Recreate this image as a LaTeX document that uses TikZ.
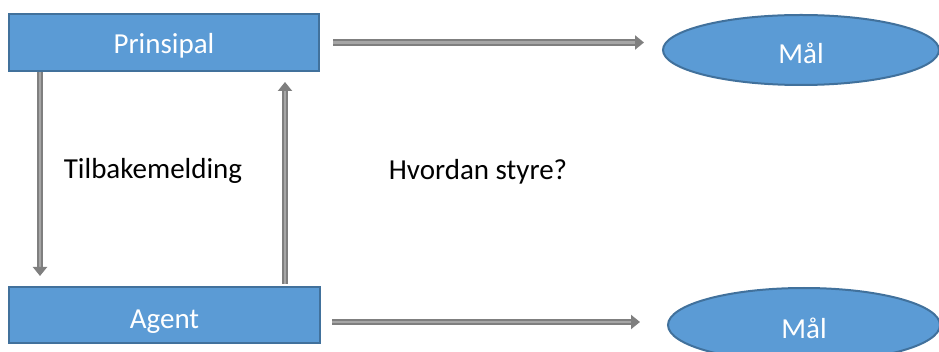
\documentclass[tikz,border=0pt]{standalone}
\usepackage{fontspec}
\setmainfont{Carlito}
\usetikzlibrary{arrows.meta,shapes.geometric,calc}
\definecolor{boxfill}{HTML}{5B9BD5}
\definecolor{boxline}{HTML}{41719C}
\definecolor{arrowdark}{HTML}{7F7F7F}
\definecolor{arrowlight}{HTML}{A6A6A6}
\begin{document}
\begin{tikzpicture}[x=1pt,y=-1pt,
  bigtext/.style={font=\fontsize{29}{34}\selectfont},
  bluebox/.style={rectangle, draw=boxline, line width=2pt, fill=boxfill, text=white, bigtext, inner sep=0pt},
  blueoval/.style={ellipse, draw=boxline, line width=2pt, fill=boxfill, text=white, bigtext, inner sep=0pt,
    text height=28pt, text depth=1pt},
  label/.style={bigtext, text=black, inner sep=0pt},
  garrow/.style={draw=arrowdark, line width=2pt, double=arrowlight, double distance=2.5pt,
    -{Triangle[length=9pt,width=14pt,fill=arrowdark]}}
]
\useasboundingbox (0,0) rectangle (939,352);
\node[bluebox, minimum width=310pt, minimum height=57pt, text height=22pt, text depth=0.5pt] (P) at (164,42.5) {Prinsipal};
\node[bluebox, minimum width=311pt, minimum height=56pt, text height=27pt, text depth=1pt] (A) at (164.5,315) {Agent};
\node[blueoval, minimum width=276pt, minimum height=70pt] (M1) at (801,50) {Mål};
\node[blueoval, minimum width=272pt, minimum height=74pt] (M2) at (804,325) {Mål};
\node[label] (T) at (153,171) {Tilbakemelding};
\node[label] (H) at (478,172) {Hvordan styre?};
\draw[garrow, shorten <=13pt, shorten >=18pt] (P.east) -- (P.east -| M1.west);
\draw[garrow, shorten <=11pt, shorten >=27pt] ([yshift=-7pt]A.east) -- ([yshift=-7pt]A.east -| M2.west);
\draw[garrow, shorten >=10pt] ([xshift=32pt]P.south west) -- ([xshift=32pt]A.north west);
\draw[garrow, shorten <=2pt, shorten >=10pt] ([xshift=277pt]A.north west) -- ([xshift=277pt]P.south west);
\end{tikzpicture}
\end{document}
